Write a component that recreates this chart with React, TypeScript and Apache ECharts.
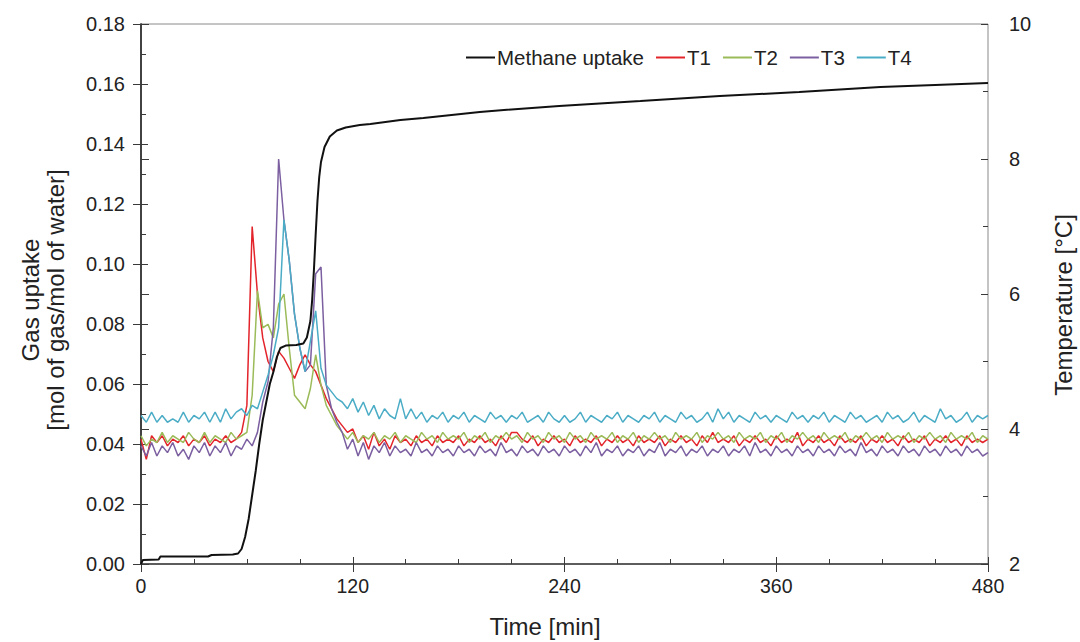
import React, { useEffect, useRef } from "react";
import * as echarts from "echarts";

// Methane uptake [time (min), mol gas / mol water]
const METHANE: [number, number][] = [
  [0, 0], [1, 0.0013], [10, 0.0015], [11, 0.0025], [38, 0.0025], [40, 0.003], [52, 0.0032],
  [55, 0.0035], [57, 0.005], [59, 0.009], [61, 0.015], [63, 0.023], [65, 0.031], [67, 0.04],
  [69, 0.048], [71, 0.054], [73, 0.06], [75, 0.064], [77, 0.069], [79, 0.072], [82, 0.0728],
  [88, 0.073], [92, 0.0735], [94, 0.0755], [96, 0.081], [97, 0.088], [98, 0.098], [99, 0.11],
  [100, 0.121], [101, 0.129], [102, 0.134], [104, 0.139], [107, 0.1425], [111, 0.1445],
  [116, 0.1455], [124, 0.1463], [130, 0.1467], [147, 0.148], [160, 0.1487], [192, 0.1507],
  [237, 0.1527], [260, 0.1535], [283, 0.1543], [328, 0.156], [373, 0.1573], [419, 0.159],
  [450, 0.1597], [480, 0.1603],
];

// Temperatures (°C), logged every 3 min from 0 to 480 min
const SAMPLE_MIN = 3;
const T1 = [
  3.85, 3.55, 3.9, 3.8, 3.9, 3.75, 3.85, 3.8, 3.9, 3.75,
  3.85, 3.8, 3.9, 3.75, 3.85, 3.8, 3.9, 3.8, 3.85, 3.95,
  4.35, 7.0, 6.0, 5.35, 5.0, 4.85, 5.15, 5.05, 4.9, 4.75,
  4.95, 5.1, 4.95, 4.85, 4.65, 4.45, 4.3, 4.15, 4.05, 3.95,
  4.0, 3.8, 3.9, 3.7, 3.95, 3.75, 3.85, 3.7, 3.9, 3.8,
  3.85, 3.75, 3.9, 3.8, 3.85, 3.75, 3.9, 3.8, 3.85, 3.8,
  3.9, 3.75, 3.85, 3.8, 3.9, 3.8, 3.85, 3.75, 3.9, 3.8,
  3.95, 3.95, 3.85, 3.8, 3.9, 3.75, 3.85, 3.8, 3.9, 3.8,
  3.85, 3.75, 3.9, 3.8, 3.85, 3.8, 3.9, 3.75, 3.85, 3.8,
  3.9, 3.8, 3.85, 3.75, 3.9, 3.8, 3.85, 3.8, 3.9, 3.75,
  3.85, 3.8, 3.9, 3.8, 3.85, 3.75, 3.9, 3.8, 3.95, 3.8,
  3.85, 3.8, 3.9, 3.75, 3.85, 3.8, 3.9, 3.8, 3.85, 3.75,
  3.9, 3.8, 3.85, 3.8, 3.95, 3.75, 3.85, 3.8, 3.9, 3.8,
  3.85, 3.75, 3.9, 3.8, 3.85, 3.8, 3.9, 3.75, 3.85, 3.8,
  3.9, 3.8, 3.85, 3.75, 3.9, 3.8, 3.85, 3.8, 3.9, 3.75,
  3.85, 3.8, 3.9, 3.8, 3.85, 3.75, 3.9, 3.8, 3.85, 3.8,
  3.85,
];
const T2 = [
  3.9, 3.75, 3.85, 3.8, 3.95, 3.8, 3.9, 3.85, 3.8, 3.95,
  3.85, 3.8, 3.95, 3.8, 3.9, 3.85, 3.8, 3.95, 3.85, 3.9,
  3.95, 4.5, 6.05, 5.5, 5.55, 5.35, 5.85, 6.0, 5.2, 4.5,
  4.4, 4.3, 4.6, 5.1, 4.65, 4.35, 4.2, 4.05, 3.95, 3.85,
  3.95, 3.8, 3.9, 3.85, 3.95, 3.8, 3.9, 3.85, 3.95, 3.8,
  3.9, 3.85, 3.8, 3.95, 3.85, 3.9, 3.8, 3.95, 3.85, 3.9,
  3.85, 3.95, 3.8, 3.9, 3.85, 3.95, 3.8, 3.9, 3.85, 3.95,
  3.85, 3.9, 3.8, 3.95, 3.85, 3.9, 3.8, 3.95, 3.85, 3.9,
  3.8, 3.95, 3.85, 3.9, 3.8, 3.95, 3.85, 3.9, 3.85, 3.95,
  3.8, 3.9, 3.85, 3.95, 3.8, 3.9, 3.85, 3.95, 3.85, 3.9,
  3.8, 3.95, 3.85, 3.9, 3.85, 3.95, 3.8, 3.9, 3.85, 3.95,
  3.85, 3.9, 3.8, 3.95, 3.85, 3.9, 3.85, 3.95, 3.8, 3.9,
  3.85, 3.95, 3.8, 3.9, 3.85, 3.95, 3.85, 3.9, 3.8, 3.95,
  3.85, 3.9, 3.85, 3.95, 3.8, 3.9, 3.85, 3.95, 3.85, 3.9,
  3.8, 3.95, 3.85, 3.9, 3.85, 3.95, 3.8, 3.9, 3.85, 3.95,
  3.85, 3.9, 3.8, 3.95, 3.85, 3.9, 3.85, 3.95, 3.8, 3.9,
  3.85,
];
const T3 = [
  3.75, 3.6, 3.8, 3.6, 3.75, 3.65, 3.8, 3.6, 3.7, 3.55,
  3.75, 3.65, 3.8, 3.6, 3.75, 3.65, 3.8, 3.6, 3.75, 3.7,
  3.85, 3.75, 3.95, 4.4, 4.7, 5.5, 8.0, 7.1, 6.5, 5.7,
  5.2, 4.85, 4.95, 6.3, 6.4, 4.65, 4.3, 4.1, 3.95, 3.7,
  3.85, 3.6, 3.8, 3.55, 3.75, 3.65, 3.8, 3.6, 3.75, 3.65,
  3.7, 3.6, 3.8, 3.65, 3.7, 3.6, 3.75, 3.65, 3.7, 3.6,
  3.75, 3.65, 3.7, 3.6, 3.75, 3.65, 3.7, 3.6, 3.8, 3.65,
  3.7, 3.6, 3.75, 3.65, 3.7, 3.6, 3.75, 3.65, 3.7, 3.6,
  3.75, 3.65, 3.7, 3.6, 3.75, 3.65, 3.8, 3.6, 3.7, 3.65,
  3.75, 3.6, 3.7, 3.65, 3.75, 3.6, 3.7, 3.65, 3.8, 3.6,
  3.7, 3.65, 3.75, 3.6, 3.7, 3.65, 3.75, 3.6, 3.7, 3.65,
  3.75, 3.6, 3.7, 3.65, 3.75, 3.6, 3.8, 3.65, 3.7, 3.6,
  3.75, 3.65, 3.7, 3.6, 3.75, 3.65, 3.7, 3.6, 3.75, 3.65,
  3.7, 3.6, 3.75, 3.65, 3.7, 3.6, 3.8, 3.65, 3.7, 3.6,
  3.75, 3.65, 3.7, 3.6, 3.75, 3.65, 3.7, 3.6, 3.75, 3.65,
  3.7, 3.6, 3.75, 3.65, 3.7, 3.6, 3.75, 3.65, 3.7, 3.6,
  3.65,
];
const T4 = [
  4.2, 4.1, 4.25, 4.1, 4.2, 4.1, 4.15, 4.1, 4.25, 4.1,
  4.2, 4.15, 4.25, 4.1, 4.25, 4.1, 4.3, 4.15, 4.25, 4.3,
  4.2, 4.35, 4.3, 4.55, 4.8, 5.1, 5.5, 7.1, 6.5, 5.7,
  5.2, 4.85, 5.3, 5.75, 4.9, 4.65, 4.55, 4.45, 4.4, 4.3,
  4.45, 4.25, 4.4, 4.2, 4.35, 4.15, 4.3, 4.2, 4.15, 4.45,
  4.15, 4.3, 4.15, 4.25, 4.1, 4.2, 4.15, 4.25, 4.1, 4.2,
  4.15, 4.25, 4.1, 4.2, 4.15, 4.1, 4.25, 4.15, 4.2, 4.1,
  4.2, 4.15, 4.25, 4.1, 4.15, 4.2, 4.1, 4.25, 4.15, 4.1,
  4.2, 4.1, 4.15, 4.25, 4.1, 4.2, 4.15, 4.1, 4.2, 4.15,
  4.25, 4.1, 4.2, 4.15, 4.1, 4.2, 4.15, 4.25, 4.1, 4.2,
  4.15, 4.1, 4.25, 4.15, 4.2, 4.1, 4.15, 4.25, 4.1, 4.3,
  4.15, 4.25, 4.1, 4.2, 4.15, 4.1, 4.25, 4.15, 4.2, 4.1,
  4.2, 4.15, 4.1, 4.25, 4.15, 4.2, 4.1, 4.2, 4.15, 4.25,
  4.1, 4.2, 4.15, 4.1, 4.25, 4.15, 4.2, 4.1, 4.15, 4.2,
  4.1, 4.25, 4.15, 4.2, 4.1, 4.15, 4.25, 4.1, 4.2, 4.15,
  4.1, 4.3, 4.15, 4.2, 4.1, 4.15, 4.25, 4.1, 4.2, 4.15,
  4.2,
];

const SERIES_NAMES = ["Methane uptake", "T1", "T2", "T3", "T4"];
const COLORS = ["#111111", "#e3242b", "#9bbb59", "#7b5fa0", "#4bacc6"];
const X_TICKS = { min: 0, max: 480, interval: 120 };
const LEFT_TICKS = { min: 0, max: 0.18, interval: 0.02 };
const RIGHT_TICKS = { min: 2, max: 10, interval: 2 };

const FONT = "'Liberation Sans', Arial, sans-serif";
const AXIS_COLOR = "#3a3a3a";
const LABEL_COLOR = "#222";

export default function App() {
  const ref = useRef<HTMLDivElement>(null);
  useEffect(() => {
    if (!ref.current) return;
    const chart = echarts.init(ref.current, undefined, { renderer: "svg" });
    const withTime = (arr: number[]) => arr.map((v, i) => [i * SAMPLE_MIN, v]);
    const temps = [T1, T2, T3, T4];

    const outTick = { show: true, inside: false, length: 8, lineStyle: { color: AXIS_COLOR, width: 1 } };
    const inTick = { show: true, inside: true, length: 7, lineStyle: { color: AXIS_COLOR, width: 1 } };
    const minorIn = { show: true, length: 5, lineStyle: { color: AXIS_COLOR, width: 1 } };

    const option: any = {
      animation: false,
      backgroundColor: "#fff",
      textStyle: { fontFamily: FONT },
      grid: {
        left: 141, right: 92, top: 24, bottom: 78,
        show: true, borderColor: "#8a8a8a", borderWidth: 1, backgroundColor: "transparent",
      },
      legend: {
        data: SERIES_NAMES,
        left: 461, top: 42,
        itemWidth: 29, itemHeight: 2, itemGap: 12,
        icon: "rect",
        textStyle: { fontFamily: FONT, fontSize: 20.5, color: LABEL_COLOR, padding: [0, 0, 0, -3] },
      },
      xAxis: [
        {
          type: "value", ...X_TICKS, position: "bottom",
          axisLine: { show: true, lineStyle: { color: AXIS_COLOR, width: 1.5 } },
          axisTick: outTick,
          minorTick: { show: false },
          splitLine: { show: false },
          axisLabel: { fontFamily: FONT, fontSize: 19.5, color: LABEL_COLOR, margin: 12 },
        },
        {
          type: "value", ...X_TICKS, position: "bottom",
          axisLine: { show: false },
          axisTick: inTick,
          minorTick: { ...minorIn, splitNumber: 4 },
          splitLine: { show: false }, minorSplitLine: { show: false },
          axisLabel: { show: false },
        },
      ],
      yAxis: [
        {
          type: "value", ...LEFT_TICKS, position: "left",
          axisLine: { show: true, lineStyle: { color: AXIS_COLOR, width: 1.5 } },
          axisTick: outTick,
          splitLine: { show: false },
          axisLabel: {
            fontFamily: FONT, fontSize: 20, color: LABEL_COLOR, margin: 16,
            formatter: (v: number) => v.toFixed(2),
          },
        },
        {
          type: "value", ...RIGHT_TICKS, position: "right",
          axisLine: { show: true, lineStyle: { color: AXIS_COLOR, width: 1.5 } },
          axisTick: outTick,
          splitLine: { show: false },
          axisLabel: { fontFamily: FONT, fontSize: 20, color: LABEL_COLOR, margin: 21 },
        },
        {
          type: "value", ...LEFT_TICKS, position: "left",
          axisLine: { show: false }, axisTick: inTick,
          minorTick: { ...minorIn, splitNumber: 2 },
          splitLine: { show: false }, minorSplitLine: { show: false },
          axisLabel: { show: false },
        },
        {
          type: "value", ...RIGHT_TICKS, position: "right",
          axisLine: { show: false }, axisTick: inTick,
          minorTick: { ...minorIn, splitNumber: 2 },
          splitLine: { show: false }, minorSplitLine: { show: false },
          axisLabel: { show: false },
        },
      ],
      series: [
        {
          name: SERIES_NAMES[0], type: "line", xAxisIndex: 0, yAxisIndex: 0,
          data: METHANE, showSymbol: false, symbol: "none",
          lineStyle: { color: COLORS[0], width: 2 }, itemStyle: { color: COLORS[0] }, z: 3,
        },
        ...temps.map((arr, k) => ({
          name: SERIES_NAMES[k + 1], type: "line", xAxisIndex: 0, yAxisIndex: 1,
          data: withTime(arr), showSymbol: false, symbol: "none",
          lineStyle: { color: COLORS[k + 1], width: 1.5 }, itemStyle: { color: COLORS[k + 1] }, z: 2,
        })),
      ],
      graphic: [
        {
          type: "text", x: 30, y: 300, rotation: Math.PI / 2,
          style: { text: "Gas uptake", font: `24px ${FONT}`, fill: LABEL_COLOR, textAlign: "center", textVerticalAlign: "middle" },
        },
        {
          type: "text", x: 55, y: 300, rotation: Math.PI / 2,
          style: { text: "[mol of gas/mol of water]", font: `24px ${FONT}`, fill: LABEL_COLOR, textAlign: "center", textVerticalAlign: "middle" },
        },
        {
          type: "text", x: 1063, y: 305, rotation: Math.PI / 2,
          style: { text: "Temperature [°C]", font: `24px ${FONT}`, fill: LABEL_COLOR, textAlign: "center", textVerticalAlign: "middle" },
        },
        {
          type: "text", x: 545, y: 626,
          style: { text: "Time [min]", font: `24px ${FONT}`, fill: LABEL_COLOR, textAlign: "center", textVerticalAlign: "middle" },
        },
      ],
    };
    chart.setOption(option);
    return () => chart.dispose();
  }, []);
  return <div ref={ref} style={{ position: "fixed", left: 0, top: 0, width: 1080, height: 642, background: "#fff" }} />;
}
